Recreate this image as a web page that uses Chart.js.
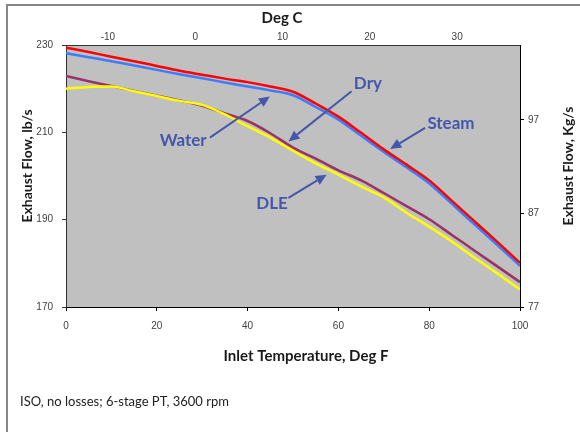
<!DOCTYPE html>
<html>
<head>
<meta charset="utf-8">
<script src="https://cdn.jsdelivr.net/npm/chart.js@4.4.1/dist/chart.umd.min.js"></script>
<style>
  html, body { margin: 0; padding: 0; background: #fff; }
  #wrap { position: relative; width: 580px; height: 432px; overflow: hidden; }
  #frame { position: absolute; left: 6px; top: 4px; right: -4px; bottom: -4px;
           border-top: 2px solid #868686; border-left: 2px solid #868686; pointer-events: none; }
  #note { position: absolute; left: 20px; top: 393px; font: 13px Lato, sans-serif; color: #222; }
</style>
</head>
<body>
<div id="wrap">
  <canvas id="chart" width="580" height="432"></canvas>
  <div id="frame"></div>
  <div id="note">ISO, no losses; 6-stage PT, 3600 rpm</div>
</div>
<script>
// inlet temperature, deg F
const inletF = [0, 5, 10, 15, 20, 25, 30, 35, 40, 45, 50, 55, 60, 65, 70, 75, 80, 85, 90, 95, 100];

// exhaust flow, lb/s
const steam = [229.4, 228.4, 227.3, 226.3, 225.2, 224.1, 223.2, 222.3, 221.5, 220.5, 219.3, 216.6, 213.6, 209.9, 206.1, 202.6, 199.0, 194.3, 189.6, 184.9, 180.1];
const water = [228.1, 227.2, 226.3, 225.3, 224.3, 223.3, 222.4, 221.4, 220.5, 219.6, 218.5, 215.8, 212.9, 209.2, 205.5, 202.0, 198.3, 193.6, 188.9, 184.2, 179.4];
const dry   = [222.9, 221.7, 220.6, 219.5, 218.4, 217.3, 216.1, 214.3, 212.6, 209.8, 206.5, 204.0, 201.3, 199.0, 196.1, 193.1, 190.1, 186.5, 182.9, 179.3, 175.7];
const dle   = [220.0, 220.4, 220.5, 219.4, 218.3, 217.2, 216.3, 214.1, 211.4, 208.8, 205.8, 202.9, 200.3, 197.6, 195.1, 191.6, 188.4, 185.0, 181.3, 177.7, 174.0];

// tick labels
const degCTicks = [-10, 0, 10, 20, 30];
const kgTicks = [77, 87, 97];

// callout labels (deg F, lb/s)
const calloutText = ['Water', 'Dry', 'Steam', 'DLE'];
const calloutAt   = [[25.8, 208.1], [66.5, 221.1], [84.8, 212.0], [45.4, 193.7]];
const arrowFrom   = [[31.7, 208.8], [62.9, 219.4], [79.1, 211.0], [49.0, 195.0]];
const arrowTo     = [[44.9, 218.2], [49.0, 207.9], [71.4, 206.2], [57.4, 200.3]];

const tickFont = { family: 'Liberation Sans', size: 10 };

const toPoints = arr => arr.map((v, i) => ({ x: inletF[i], y: v }));

const plotBg = {
    id: 'plotBg',
    beforeDraw(chart) {
        const { ctx, chartArea: a } = chart;
        ctx.save();
        ctx.fillStyle = '#c0c0c0';
        ctx.fillRect(a.left, a.top, a.right - a.left, a.bottom - a.top);
        ctx.restore();
    }
};

// axis titles, drawn by hand so both side titles read bottom-to-top
const axisTitles = {
    id: 'axisTitles',
    afterDraw(chart) {
        const { ctx, chartArea: a } = chart;
        const midY = (a.top + a.bottom) / 2 - 10;
        ctx.save();
        ctx.fillStyle = '#1a1a1a';
        ctx.font = 'bold 15px Lato';
        ctx.textAlign = 'center';
        ctx.textBaseline = 'middle';
        ctx.fillText('Deg C', (a.left + a.right) / 2 - 11, 18);
        ctx.fillText('Inlet Temperature, Deg F', (a.left + a.right) / 2 + 13, 356);
        ctx.font = 'bold 14px Lato';
        [[27, 'Exhaust Flow, lb/s'], [568, 'Exhaust Flow, Kg/s']].forEach(([x, t]) => {
            ctx.save();
            ctx.translate(x, midY);
            ctx.rotate(-Math.PI / 2);
            ctx.fillText(t, 0, 0);
            ctx.restore();
        });
        ctx.restore();
    }
};

const callouts = {
    id: 'callouts',
    afterDatasetsDraw(chart) {
        const { ctx, scales } = chart;
        const px = v => scales.x.getPixelForValue(v);
        const py = v => scales.y.getPixelForValue(v);
        ctx.save();
        ctx.fillStyle = '#4557aa';
        ctx.strokeStyle = '#4557aa';
        ctx.lineWidth = 2;
        ctx.font = 'bold 17px Lato';
        ctx.textAlign = 'center';
        ctx.textBaseline = 'middle';
        calloutText.forEach((t, i) => {
            ctx.fillText(t, px(calloutAt[i][0]), py(calloutAt[i][1]));
            const x0 = px(arrowFrom[i][0]), y0 = py(arrowFrom[i][1]);
            const x1 = px(arrowTo[i][0]), y1 = py(arrowTo[i][1]);
            const ang = Math.atan2(y1 - y0, x1 - x0);
            const len = 11, half = 5;
            const bx = x1 - len * Math.cos(ang), by = y1 - len * Math.sin(ang);
            ctx.beginPath();
            ctx.moveTo(x0, y0);
            ctx.lineTo(bx, by);
            ctx.stroke();
            ctx.beginPath();
            ctx.moveTo(x1, y1);
            ctx.lineTo(bx + half * Math.sin(ang), by - half * Math.cos(ang));
            ctx.lineTo(bx - half * Math.sin(ang), by + half * Math.cos(ang));
            ctx.closePath();
            ctx.fill();
        });
        ctx.restore();
    }
};

const line = (label, data, color) => ({
    label: label,
    data: toPoints(data),
    borderColor: color,
    backgroundColor: color,
    borderWidth: 2.5,
    pointRadius: 0,
    cubicInterpolationMode: 'monotone',
    fill: false
});

new Chart(document.getElementById('chart'), {
    type: 'line',
    data: {
        datasets: [
            line('Steam', steam, '#ff0000'),
            line('Water', water, '#3d7cff'),
            line('DLE', dle, '#ffff00'),
            line('Dry', dry, '#993366')
        ]
    },
    options: {
        responsive: false,
        animation: false,
        layout: { padding: 0 },
        plugins: {
            legend: { display: false },
            tooltip: { enabled: false }
        },
        scales: {
            x: {
                type: 'linear',
                position: 'bottom',
                min: 0,
                max: 100,
                ticks: { stepSize: 20, font: tickFont, color: '#404040', padding: 9, maxRotation: 0 },
                grid: { display: true, drawOnChartArea: false, drawTicks: true, tickLength: 4, color: '#000' },
                border: { color: '#000' },
                afterFit: s => { s.height = 125; }
            },
            x2: {
                type: 'linear',
                position: 'top',
                min: -14.8,
                max: 37.2,
                afterBuildTicks: s => { s.ticks = degCTicks.map(v => ({ value: v })); },
                ticks: { font: tickFont, color: '#404040', padding: 2, maxRotation: 0 },
                grid: { display: false, drawTicks: false },
                border: { color: '#333' },
                afterFit: s => { s.height = 45; }
            },
            y: {
                position: 'left',
                min: 170,
                max: 230,
                ticks: { stepSize: 20, font: tickFont, color: '#404040', padding: 9 },
                grid: { display: true, drawOnChartArea: false, drawTicks: true, tickLength: 4, color: '#333' },
                border: { color: '#333' },
                afterFit: s => { s.width = 66; }
            },
            y2: {
                position: 'right',
                min: 77,
                max: 105,
                afterBuildTicks: s => { s.ticks = kgTicks.map(v => ({ value: v })); },
                ticks: { font: tickFont, color: '#404040', padding: 4 },
                grid: { display: true, drawOnChartArea: false, drawTicks: true, tickLength: 4, color: '#000' },
                border: { color: '#000' },
                afterFit: s => { s.width = 60; }
            }
        }
    },
    plugins: [plotBg, callouts, axisTitles]
});
</script>
</body>
</html>
